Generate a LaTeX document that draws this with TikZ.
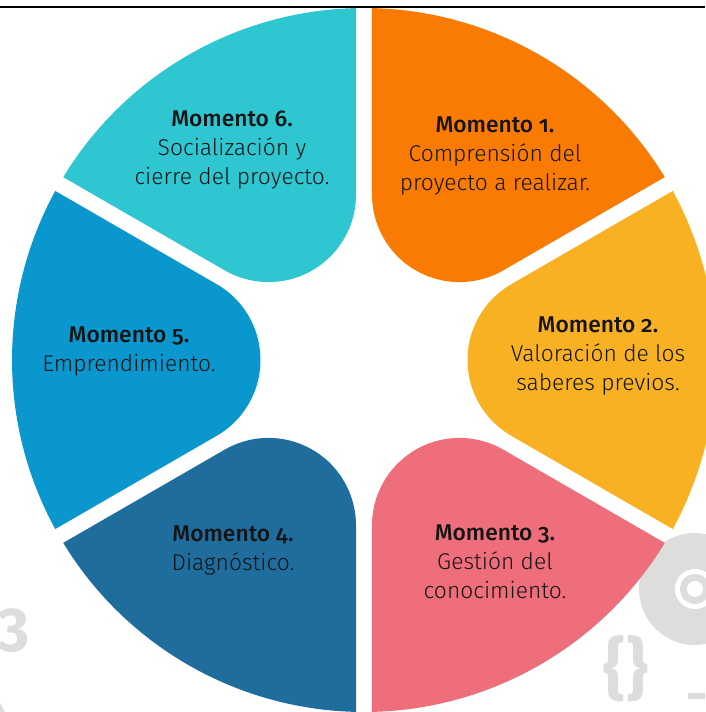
\documentclass[tikz,border=0pt]{standalone}
\usepackage{fontspec}
\usepackage{tikz}
\usepackage{xcolor}
\setmainfont{Fira Sans Light}[Numbers=OldStyle, BoldFont={Fira Sans Medium}]
\newfontfamily\decofont{Fira Sans}
\definecolor{momA}{HTML}{F97B04}
\definecolor{momB}{HTML}{F8B123}
\definecolor{momC}{HTML}{EF6E7B}
\definecolor{momD}{HTML}{1F6D9D}
\definecolor{momE}{HTML}{0A97CE}
\definecolor{momF}{HTML}{2EC6D1}
\definecolor{momink}{HTML}{141414}
\definecolor{decogray}{HTML}{DDDEDC}
\newcommand{\petalpath}{(147.25,75.78) -- (28.7:352) arc[start angle=28.7, end angle=-28.7, radius=352] -- (147.25,-75.78) arc[start angle=240, end angle=120, radius=87.5] -- cycle}

\begin{document}
\begin{tikzpicture}[x=1pt,y=1pt,
  momtext/.style={align=center, text=momink, inner sep=0pt, font=\fontsize{22.8}{29}\selectfont},
  deco/.style={text=decogray, inner sep=0pt, font=\decofont\bfseries\fontsize{62}{62}\selectfont}]
\useasboundingbox (-364,-352) rectangle (341,360);
\draw[line width=1.2pt] (-364,353) -- (341,353);
% fondo
\node[deco, anchor=east] (tres) at (-334,-271) {3};
\node[deco, font=\decofont\bfseries\fontsize{68}{68}\selectfont] (llaves) at (262,-309) {\{\}};
\fill[decogray] (-364,-343) -- (-359,-352) -- (-364,-352) -- cycle;
\fill[decogray] (324,-333) rectangle (341,-339);
\fill[decogray] (331,-229) circle[radius=56];
\fill[white] (331,-229) circle[radius=20];
\fill[decogray] (331,-229) circle[radius=15];
\fill[white] (331,-229) circle[radius=8];
% momentos
\fill[momA, rotate=60] \petalpath;
\fill[momB, rotate=0] \petalpath;
\fill[momC, rotate=-60] \petalpath;
\fill[momD, rotate=-120] \petalpath;
\fill[momE, rotate=180] \petalpath;
\fill[momF, rotate=120] \petalpath;
\node[momtext] (m1) at (131,204) {\textbf{Momento 1.}\\Comprensión del\\proyecto a realizar.};
\node[momtext] (m2) at (234,4) {\textbf{Momento 2.}\\Valoración de los\\saberes previos.};
\node[momtext] (m3) at (131,-202) {\textbf{Momento 3.}\\Gestión del\\conocimiento.};
\node[momtext] (m4) at (-131,-190) {\textbf{Momento 4.}\\Diagnóstico.};
\node[momtext] (m5) at (-235,9) {\textbf{Momento 5.}\\Emprendimiento.};
\node[momtext] (m6) at (-132,210) {\textbf{Momento 6.}\\Socialización y\\cierre del proyecto.};
\end{tikzpicture}
\end{document}
